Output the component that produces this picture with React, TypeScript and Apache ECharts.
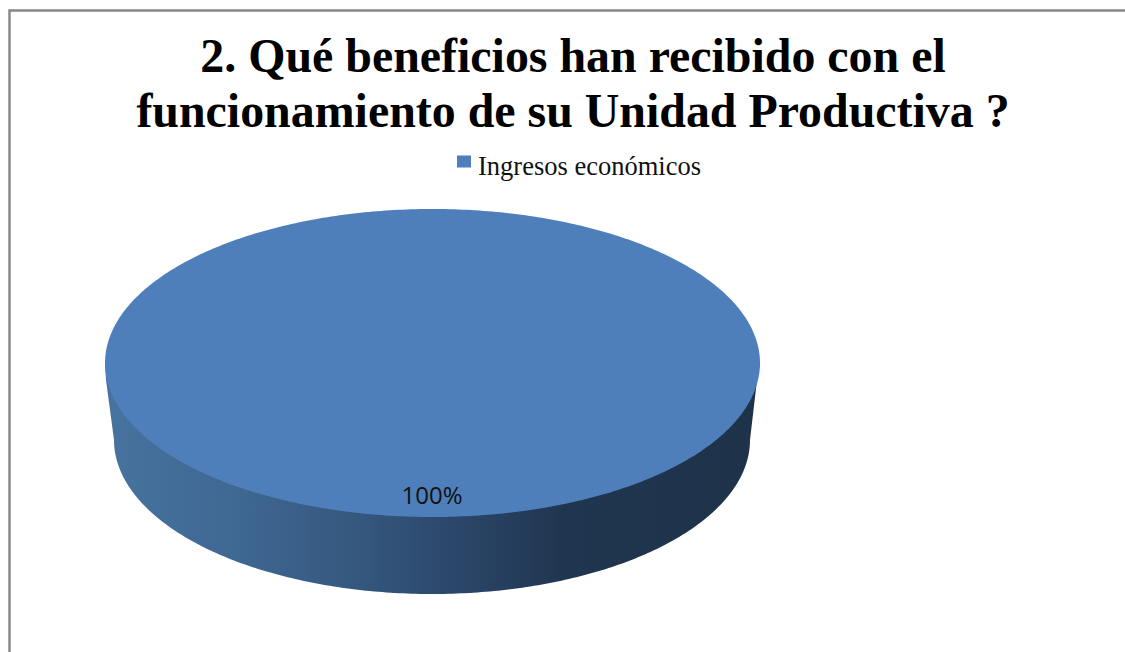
import React, { useEffect, useRef } from "react";
import * as echarts from "echarts";

const titleLines = [
  "2. Qué beneficios han recibido con el",
  "funcionamiento de su Unidad Productiva ?",
];
const categories = ["Ingresos económicos"];
const values = [100];

const TOP_BLUE = "#4F7FBB";

// Sampled ellipse arc, angles in radians.
function arc(cx: number, cy: number, rx: number, ry: number, from: number, to: number, n = 240) {
  const pts: number[][] = [];
  for (let i = 0; i <= n; i++) {
    const a = from + ((to - from) * i) / n;
    pts.push([cx + rx * Math.cos(a), cy + ry * Math.sin(a)]);
  }
  return pts;
}

// Flattened disc: the wall below the rim, then the top face swept by the value's share.
function renderDisc(params: any, api: any) {
  const total = values.reduce((s, v) => s + v, 0);
  const share = api.value(0) / total;
  const top = { cx: 432.5, cy: 363, rx: 327.5, ry: 154 };
  const base = { cx: 432, cy: 440, rx: 318, ry: 154 };

  const wall = [
    [top.cx - top.rx, top.cy],
    [top.cx - top.rx + 1, top.cy + 17],
    ...arc(base.cx, base.cy, base.rx, base.ry, Math.PI, 0),
    [top.cx + top.rx - 3, top.cy + 17],
    [top.cx + top.rx, top.cy],
  ];
  const sweep = Math.PI * 2 * share;
  const face = arc(top.cx, top.cy, top.rx, top.ry, Math.PI / 2, Math.PI / 2 + sweep, 480);

  return {
    type: "group",
    children: [
      {
        type: "polygon",
        shape: { points: wall },
        style: {
          fill: {
            type: "linear",
            x: 0,
            y: 0,
            x2: 1,
            y2: 0,
            colorStops: [
              { offset: 0, color: "#47739F" },
              { offset: 0.2, color: "#3F6893" },
              { offset: 0.4, color: "#34567C" },
              { offset: 0.55, color: "#2A4568" },
              { offset: 0.7, color: "#203650" },
              { offset: 1, color: "#1E3349" },
            ],
          },
        },
      },
      { type: "polygon", shape: { points: face }, style: { fill: TOP_BLUE } },
      {
        type: "text",
        style: {
          x: 432,
          y: 494,
          text: `${Math.round(share * 100)}%`,
          fill: "#111111",
          fontFamily: "'Open Sans', sans-serif",
          fontSize: 24,
          align: "center",
          verticalAlign: "middle",
        },
      },
    ],
  };
}

export default function App() {
  const ref = useRef<HTMLDivElement>(null);
  useEffect(() => {
    const chart = echarts.init(ref.current!, undefined, { renderer: "svg" });
    chart.setOption({
      animation: false,
      backgroundColor: "#ffffff",
      title: {
        text: titleLines.join("\n"),
        left: 568,
        top: 23,
        textAlign: "center",
        textStyle: {
          fontFamily: "'Liberation Serif', serif",
          fontWeight: "bold",
          fontSize: 47.9,
          lineHeight: 55,
          color: "#000000",
        },
      },
      legend: {
        left: 457,
        top: 152,
        padding: 0,
        icon: "rect",
        itemWidth: 14,
        itemHeight: 12,
        itemGap: 7,
        data: categories,
        formatter: (name: string) => `{entry|${name}}`,
        textStyle: {
          rich: {
            entry: {
              fontFamily: "'Liberation Serif', serif",
              fontSize: 26.5,
              color: "#111111",
              // seats the words below the swatch's centre line
              verticalAlign: "bottom",
              padding: [8, 0, 0, 2],
            },
          },
        },
      },
      graphic: [
        {
          type: "polyline",
          shape: { points: [[9.5, 652], [9.5, 10.5], [1125, 10.5]] },
          style: { fill: "none", stroke: "#868686", lineWidth: 2.4 },
          silent: true,
        },
      ],
      series: [
        {
          type: "custom",
          name: categories[0],
          coordinateSystem: "none",
          renderItem: renderDisc,
          itemStyle: { color: TOP_BLUE },
          data: values.map((v, i) => ({ name: categories[i], value: v })),
        },
      ],
    });
    return () => chart.dispose();
  }, []);
  return (
    <div
      ref={ref}
      style={{ position: "absolute", left: 0, top: 0, width: 1125, height: 652 }}
    />
  );
}
